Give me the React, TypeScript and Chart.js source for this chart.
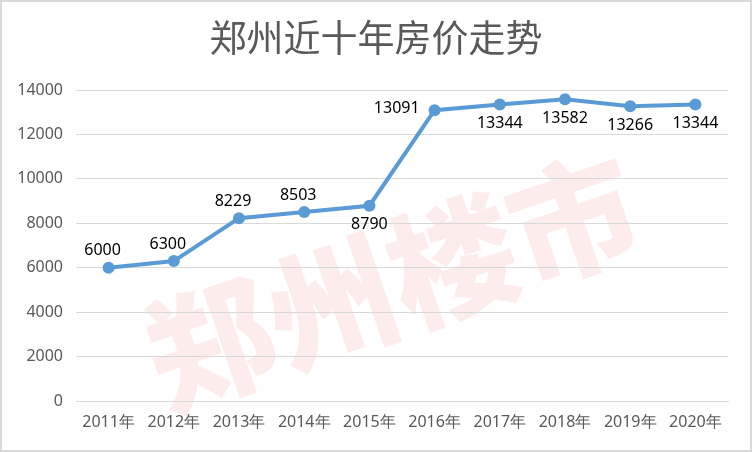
import React, { useEffect, useRef } from "react";
import { Chart, registerables } from "chart.js";

Chart.register(...registerables);

const title = "郑州近十年房价走势";
const watermark = "郑州楼市";
const years = ["2011年", "2012年", "2013年", "2014年", "2015年", "2016年", "2017年", "2018年", "2019年", "2020年"];
const prices = [6000, 6300, 8229, 8503, 8790, 13091, 13344, 13582, 13266, 13344];
const labelPlacement = ["above", "above", "above", "above", "below", "left", "below", "below", "below", "below"];
const yMin = 0;
const yMax = 14000;
const yStep = 2000;

const bgPlugin = {
  id: "bgAndWatermark",
  beforeDraw(chart: any) {
    const { ctx, width, height } = chart;
    ctx.save();
    ctx.fillStyle = "#ffffff";
    ctx.fillRect(0, 0, width, height);
    ctx.translate(392, 282);
    ctx.rotate((-19 * Math.PI) / 180);
    ctx.font = "900 128px 'Noto Sans CJK SC'";
    ctx.fillStyle = "rgba(235, 70, 70, 0.1)";
    ctx.textAlign = "center";
    ctx.textBaseline = "middle";
    ctx.fillText(watermark, 0, 0);
    ctx.restore();
  },
  afterDraw(chart: any) {
    const { ctx, width, height } = chart;
    ctx.save();
    ctx.fillStyle = "#595959";
    ctx.font = "37px 'Noto Sans CJK SC'";
    ctx.textAlign = "center";
    ctx.textBaseline = "middle";
    ctx.fillText(title, width / 2, 38);
    ctx.strokeStyle = "#d9d9d9";
    ctx.lineWidth = 2;
    ctx.strokeRect(1, 1, width - 2, height - 2);
    ctx.restore();
  },
};

const labelPlugin = {
  id: "pointLabels",
  afterDatasetsDraw(chart: any) {
    const { ctx } = chart;
    const meta = chart.getDatasetMeta(0);
    ctx.save();
    ctx.font = "16px 'Noto Sans', sans-serif";
    ctx.fillStyle = "#000000";
    ctx.textAlign = "center";
    ctx.textBaseline = "middle";
    meta.data.forEach((pt: any, i: number) => {
      const v = String(prices[i]);
      const pos = labelPlacement[i];
      let x = pt.x;
      let y = pt.y;
      if (pos === "above") {
        x -= 6;
        y -= 17;
      } else if (pos === "below") {
        y += 19;
      } else if (pos === "left") {
        ctx.textAlign = "right";
        x -= 15;
        y -= 2;
      }
      ctx.fillText(v, x, y);
      ctx.textAlign = "center";
    });
    ctx.restore();
  },
};

export default function App() {
  const ref = useRef<HTMLCanvasElement | null>(null);
  useEffect(() => {
    document.body.style.margin = "0";
    if (!ref.current) return;
    const chart = new Chart(ref.current, {
      type: "line",
      data: {
        labels: years,
        datasets: [
          {
            data: prices,
            borderColor: "#5B9BD5",
            backgroundColor: "#5B9BD5",
            borderWidth: 4,
            pointRadius: 6,
            pointBackgroundColor: "#5B9BD5",
            pointBorderColor: "#5B9BD5",
            pointBorderWidth: 0,
            tension: 0,
            fill: false,
          },
        ],
      },
      options: {
        animation: false,
        responsive: true,
        maintainAspectRatio: false,
        layout: { padding: { top: 90, right: 24, left: 0, bottom: 0 } },
        plugins: {
          legend: { display: false },
          title: { display: false },
          tooltip: { enabled: false },
        },
        scales: {
          x: {
            offset: true,
            grid: { display: false, drawTicks: false },
            border: { display: true, color: "#d9d9d9", width: 1 },
            ticks: {
              color: "#595959",
              font: { size: 16, family: "'Noto Sans', sans-serif" },
              padding: 12,
              maxRotation: 0,
              autoSkip: false,
            },
            afterFit(scale: any) {
              scale.height = 51;
            },
          },
          y: {
            min: yMin,
            max: yMax,
            grid: { color: "#d9d9d9", lineWidth: 1, drawTicks: false },
            border: { display: false },
            ticks: {
              stepSize: yStep,
              color: "#595959",
              font: { size: 16, family: "'Noto Sans', sans-serif" },
              padding: 13,
              callback: (value: any) => String(value),
            },
            afterFit(scale: any) {
              scale.width = 76;
            },
          },
        },
      },
      plugins: [bgPlugin, labelPlugin],
    });
    return () => chart.destroy();
  }, []);
  return (
    <div style={{ position: "relative", width: 752, height: 452 }}>
      <canvas ref={ref} />
    </div>
  );
}
